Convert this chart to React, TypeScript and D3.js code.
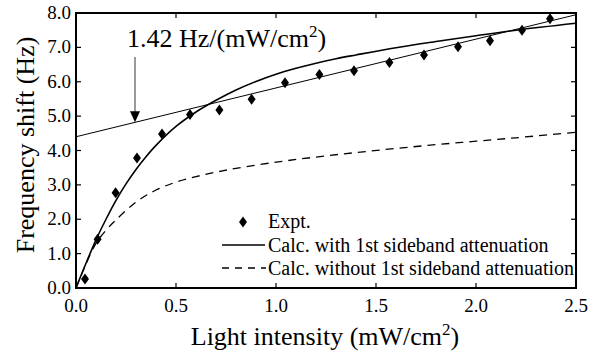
import React from "react";
import * as d3 from "d3";

const expX = [0.045, 0.108, 0.198, 0.305, 0.43, 0.57, 0.717, 0.878, 1.045, 1.217, 1.39, 1.567, 1.74, 1.91, 2.07, 2.23, 2.37];
const expY = [0.26, 1.42, 2.77, 3.78, 4.48, 5.05, 5.18, 5.49, 5.97, 6.21, 6.32, 6.56, 6.78, 7.02, 7.19, 7.5, 7.83];

const withX = [0, 0.05, 0.1, 0.15, 0.2, 0.25, 0.3, 0.35, 0.4, 0.5, 0.6, 0.7, 0.8, 0.9, 1.0, 1.1, 1.2, 1.3, 1.4, 1.6, 1.8, 2.0, 2.2, 2.5];
const withY = [0, 0.72, 1.4, 2.0, 2.55, 3.03, 3.45, 3.82, 4.15, 4.7, 5.12, 5.46, 5.76, 6.01, 6.22, 6.39, 6.54, 6.67, 6.78, 6.99, 7.17, 7.34, 7.5, 7.7];

const withoutX = [0, 0.05, 0.1, 0.15, 0.2, 0.3, 0.4, 0.5, 0.6, 0.7, 0.8, 1.0, 1.2, 1.4, 1.6, 1.8, 2.0, 2.2, 2.5];
const withoutY = [0, 0.7, 1.3, 1.68, 1.98, 2.5, 2.85, 3.08, 3.24, 3.37, 3.48, 3.66, 3.81, 3.94, 4.06, 4.17, 4.27, 4.37, 4.53];

const fitIntercept = 4.4;
const fitSlope = 1.42;
const arrowX = 0.295;
const arrowTopY = 6.72;

const xTicks = [0, 0.5, 1.0, 1.5, 2.0, 2.5];
const yTicks = [0, 1, 2, 3, 4, 5, 6, 7, 8];

const legendLabels = ["Expt.", "Calc. with 1st sideband attenuation", "Calc. without 1st sideband attenuation"];

const W = 598, H = 353;
const L = 76, R = 576, T = 13, B = 288;
const FF = "Liberation Serif";

export default function App() {
  const x = d3.scaleLinear().domain([0, 2.5]).range([L, R]);
  const y = d3.scaleLinear().domain([0, 8]).range([B, T]);

  const line = d3.line<[number, number]>().x(d => x(d[0])).y(d => y(d[1])).curve(d3.curveCatmullRom.alpha(0.5));
  const withPath = line(withX.map((v, i) => [v, withY[i]] as [number, number]))!;
  const withoutPath = line(withoutX.map((v, i) => [v, withoutY[i]] as [number, number]))!;
  const fitLine = d3.line<number>().x(d => x(d)).y(d => y(fitIntercept + fitSlope * d));
  const fitPath = fitLine([0, 2.5])!;

  const diamond = (cx: number, cy: number) => `M${cx},${cy - 5.5}L${cx + 4},${cy}L${cx},${cy + 5.5}L${cx - 4},${cy}Z`;

  const ax = x(arrowX);
  const tipY = y(fitIntercept + fitSlope * arrowX);
  const topY = y(arrowTopY);

  return (
    <svg width={W} height={H} fontFamily={FF} style={{ position: "absolute", left: 0, top: 0, background: "#fff" }}>
      <defs>
        <clipPath id="plot"><rect x={L} y={T} width={R - L} height={B - T} /></clipPath>
      </defs>
      <g clipPath="url(#plot)">
        <path d={fitPath} fill="none" stroke="#000" strokeWidth={1} />
        <path d={withPath} fill="none" stroke="#000" strokeWidth={1.6} />
        <path d={withoutPath} fill="none" stroke="#000" strokeWidth={1.3} strokeDasharray="8,6" />
        {expX.map((v, i) => (
          <path key={i} d={diamond(x(v), y(expY[i]))} fill="#000" />
        ))}
      </g>
      <line x1={ax} x2={ax} y1={topY} y2={tipY - 10} stroke="#555" strokeWidth={1.2} />
      <path d={`M${ax - 5},${tipY - 11}L${ax + 5},${tipY - 11}L${ax},${tipY}Z`} fill="#000" />
      <text x={127} y={47} fontSize={26} fontFamily={FF}>
        1.42 Hz/(mW/cm<tspan dy={-10} fontSize={17}>2</tspan><tspan dy={10}>)</tspan>
      </text>
      <rect x={L} y={T} width={R - L} height={B - T} fill="none" stroke="#000" strokeWidth={2} />
      {xTicks.map((t, i) => (
        <g key={"x" + i}>
          <line x1={x(t)} x2={x(t)} y1={B} y2={B - 5} stroke="#000" strokeWidth={1.2} />
          <line x1={x(t)} x2={x(t)} y1={T} y2={T + 5} stroke="#000" strokeWidth={1.2} />
          <text x={x(t)} y={312} fontSize={19} textAnchor="middle" fontFamily={FF}>{t.toFixed(1)}</text>
        </g>
      ))}
      {yTicks.map((t, i) => (
        <g key={"y" + i}>
          <line x1={L} x2={L + 5} y1={y(t)} y2={y(t)} stroke="#000" strokeWidth={1.2} />
          <line x1={R} x2={R - 5} y1={y(t)} y2={y(t)} stroke="#000" strokeWidth={1.2} />
          <text x={71} y={y(t) + 6} fontSize={19} textAnchor="end" fontFamily={FF}>{t.toFixed(1)}</text>
        </g>
      ))}
      <text x={325} y={345} fontSize={26} textAnchor="middle" fontFamily={FF}>
        Light intensity (mW/cm<tspan dy={-10} fontSize={17}>2</tspan><tspan dy={10}>)</tspan>
      </text>
      <text transform="translate(34,145) rotate(-90)" fontSize={26} textAnchor="middle" fontFamily={FF}>Frequency shift (Hz)</text>
      <path d={diamond(243, 222)} fill="#000" />
      <text x={268} y={228} fontSize={20} fontFamily={FF}>{legendLabels[0]}</text>
      <line x1={222} x2={265} y1={245} y2={245} stroke="#000" strokeWidth={1.3} />
      <text x={268} y={252} fontSize={20} fontFamily={FF}>{legendLabels[1]}</text>
      <line x1={222} x2={266} y1={268} y2={268} stroke="#000" strokeWidth={1.3} strokeDasharray="7,6" />
      <text x={268} y={275} fontSize={20} fontFamily={FF}>{legendLabels[2]}</text>
    </svg>
  );
}
